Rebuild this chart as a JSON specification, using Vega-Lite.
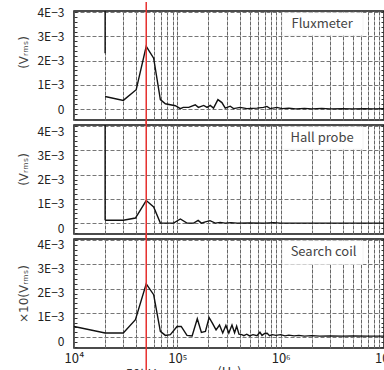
{
  "$schema": "https://vega.github.io/schema/vega-lite/v6.json",
  "padding": {"left": 17, "top": 0, "right": 0, "bottom": 0},
  "spacing": 5,
  "bounds": "flush",
  "config": {
    "font": "Noto Sans CJK JP",
    "view": {"stroke": "#111", "strokeWidth": 1.5},
    "axis": {"labelFontSize": 12, "labelColor": "#222", "titleFontSize": 12, "titleFontWeight": "normal", "titleColor": "#444", "labelFont": "Noto Sans CJK JP", "titleFont": "DejaVu Sans"}
  },
  "datasets": {
    "curves": [
      {"p": "Fluxmeter", "f": 20000, "v": 0.00052},
      {"p": "Fluxmeter", "f": 30000, "v": 0.00036},
      {"p": "Fluxmeter", "f": 40000, "v": 0.0008},
      {"p": "Fluxmeter", "f": 50000, "v": 0.00259},
      {"p": "Fluxmeter", "f": 59000, "v": 0.0021},
      {"p": "Fluxmeter", "f": 68500, "v": 0.00039},
      {"p": "Fluxmeter", "f": 76600, "v": 0.00022},
      {"p": "Fluxmeter", "f": 95700, "v": 0.00014},
      {"p": "Fluxmeter", "f": 107000, "v": 0.00002},
      {"p": "Fluxmeter", "f": 114000, "v": 0.00007},
      {"p": "Fluxmeter", "f": 129000, "v": 0.00007},
      {"p": "Fluxmeter", "f": 149000, "v": 0.00018},
      {"p": "Fluxmeter", "f": 160000, "v": 0.00007},
      {"p": "Fluxmeter", "f": 180000, "v": 0.00015},
      {"p": "Fluxmeter", "f": 194000, "v": 0.00007},
      {"p": "Fluxmeter", "f": 208000, "v": 0.00015},
      {"p": "Fluxmeter", "f": 224000, "v": 0.00004},
      {"p": "Fluxmeter", "f": 247000, "v": 0.00039},
      {"p": "Fluxmeter", "f": 270000, "v": 0.00027},
      {"p": "Fluxmeter", "f": 291000, "v": 0.00004},
      {"p": "Fluxmeter", "f": 325000, "v": 0.00012},
      {"p": "Fluxmeter", "f": 350000, "v": 0.00002},
      {"p": "Fluxmeter", "f": 406000, "v": 0.00007},
      {"p": "Fluxmeter", "f": 471000, "v": 0.00002},
      {"p": "Fluxmeter", "f": 589000, "v": 0.00004},
      {"p": "Fluxmeter", "f": 682000, "v": 0.00007},
      {"p": "Fluxmeter", "f": 736000, "v": 0.00011},
      {"p": "Fluxmeter", "f": 792000, "v": 0.00002},
      {"p": "Fluxmeter", "f": 919000, "v": 0.00007},
      {"p": "Fluxmeter", "f": 1030000, "v": 0.00002},
      {"p": "Fluxmeter", "f": 1200000, "v": 0.00004},
      {"p": "Fluxmeter", "f": 1400000, "v": 0.00001},
      {"p": "Fluxmeter", "f": 1700000, "v": 0.00003},
      {"p": "Fluxmeter", "f": 2000000, "v": 0.00001},
      {"p": "Fluxmeter", "f": 2500000, "v": 0.00003},
      {"p": "Fluxmeter", "f": 3000000, "v": 0.00001},
      {"p": "Fluxmeter", "f": 4000000, "v": 0.00002},
      {"p": "Fluxmeter", "f": 5000000, "v": 0.00001},
      {"p": "Fluxmeter", "f": 6500000, "v": 0.00002},
      {"p": "Fluxmeter", "f": 8000000, "v": 0.00001},
      {"p": "Fluxmeter", "f": 10000000, "v": 0.00002},
      {"p": "Hall probe", "f": 20000, "v": 0.00012},
      {"p": "Hall probe", "f": 30000, "v": 0.00012},
      {"p": "Hall probe", "f": 39300, "v": 0.00021},
      {"p": "Hall probe", "f": 50000, "v": 0.00093},
      {"p": "Hall probe", "f": 59000, "v": 0.00067},
      {"p": "Hall probe", "f": 68500, "v": 0.0},
      {"p": "Hall probe", "f": 92000, "v": 0.0},
      {"p": "Hall probe", "f": 107000, "v": 0.00017},
      {"p": "Hall probe", "f": 124000, "v": 0.0},
      {"p": "Hall probe", "f": 144000, "v": 0.0},
      {"p": "Hall probe", "f": 159000, "v": 0.00011},
      {"p": "Hall probe", "f": 171000, "v": 0.0},
      {"p": "Hall probe", "f": 187000, "v": 0.00005},
      {"p": "Hall probe", "f": 207000, "v": 0.0001},
      {"p": "Hall probe", "f": 233000, "v": 0.0},
      {"p": "Hall probe", "f": 260000, "v": 0.00003},
      {"p": "Hall probe", "f": 290000, "v": 0.0},
      {"p": "Hall probe", "f": 330000, "v": 0.00002},
      {"p": "Hall probe", "f": 380000, "v": 0.0},
      {"p": "Hall probe", "f": 500000, "v": 0.00001},
      {"p": "Hall probe", "f": 700000, "v": 0.0},
      {"p": "Hall probe", "f": 850000, "v": 0.00002},
      {"p": "Hall probe", "f": 1000000, "v": 0.0},
      {"p": "Hall probe", "f": 10000000, "v": 0.0},
      {"p": "Search coil", "f": 10000, "v": 0.00044},
      {"p": "Search coil", "f": 20000, "v": 0.00017},
      {"p": "Search coil", "f": 30000, "v": 0.00017},
      {"p": "Search coil", "f": 39300, "v": 0.00072},
      {"p": "Search coil", "f": 50000, "v": 0.0022},
      {"p": "Search coil", "f": 59000, "v": 0.00175},
      {"p": "Search coil", "f": 68500, "v": 0.00024},
      {"p": "Search coil", "f": 76600, "v": 0.00007},
      {"p": "Search coil", "f": 85600, "v": 0.0001},
      {"p": "Search coil", "f": 99300, "v": 0.00044},
      {"p": "Search coil", "f": 109000, "v": 0.00044},
      {"p": "Search coil", "f": 124000, "v": 0.00007},
      {"p": "Search coil", "f": 139000, "v": 0.00005},
      {"p": "Search coil", "f": 156000, "v": 0.00076},
      {"p": "Search coil", "f": 171000, "v": 0.00019},
      {"p": "Search coil", "f": 187000, "v": 0.00023},
      {"p": "Search coil", "f": 203000, "v": 0.00081},
      {"p": "Search coil", "f": 219000, "v": 0.00057},
      {"p": "Search coil", "f": 237000, "v": 0.0003},
      {"p": "Search coil", "f": 256000, "v": 0.0005},
      {"p": "Search coil", "f": 275000, "v": 0.00017},
      {"p": "Search coil", "f": 295000, "v": 0.00048},
      {"p": "Search coil", "f": 315000, "v": 0.00017},
      {"p": "Search coil", "f": 338000, "v": 0.0005},
      {"p": "Search coil", "f": 358000, "v": 0.00018},
      {"p": "Search coil", "f": 375000, "v": 0.00045},
      {"p": "Search coil", "f": 395000, "v": 0.00012},
      {"p": "Search coil", "f": 420000, "v": 0.0001},
      {"p": "Search coil", "f": 440000, "v": 0.00006},
      {"p": "Search coil", "f": 470000, "v": 0.00012},
      {"p": "Search coil", "f": 500000, "v": 0.00005},
      {"p": "Search coil", "f": 540000, "v": 0.0001},
      {"p": "Search coil", "f": 590000, "v": 0.00006},
      {"p": "Search coil", "f": 630000, "v": 0.0002},
      {"p": "Search coil", "f": 660000, "v": 0.00007},
      {"p": "Search coil", "f": 700000, "v": 0.00015},
      {"p": "Search coil", "f": 740000, "v": 0.00016},
      {"p": "Search coil", "f": 780000, "v": 0.00006},
      {"p": "Search coil", "f": 830000, "v": 0.0001},
      {"p": "Search coil", "f": 900000, "v": 0.00007},
      {"p": "Search coil", "f": 1000000, "v": 0.0001},
      {"p": "Search coil", "f": 1100000, "v": 0.00005},
      {"p": "Search coil", "f": 1200000, "v": 0.00008},
      {"p": "Search coil", "f": 1350000, "v": 0.00005},
      {"p": "Search coil", "f": 1500000, "v": 0.00007},
      {"p": "Search coil", "f": 1700000, "v": 0.00004},
      {"p": "Search coil", "f": 2000000, "v": 0.00006},
      {"p": "Search coil", "f": 2400000, "v": 0.00004},
      {"p": "Search coil", "f": 3000000, "v": 0.00005},
      {"p": "Search coil", "f": 4000000, "v": 0.00004},
      {"p": "Search coil", "f": 5000000, "v": 0.00005},
      {"p": "Search coil", "f": 7000000, "v": 0.00004},
      {"p": "Search coil", "f": 10000000, "v": 0.00004}
    ]
  },
  "vconcat": [
    {
      "width": 310, "height": 109,
      "layer": [
        {
          "data": {"name": "curves"},
          "transform": [{"filter": "datum.p == 'Fluxmeter'"}],
          "mark": {"type": "line", "color": "#111", "strokeWidth": 1.4, "clip": true},
          "encoding": {
            "x": {"field": "f", "type": "quantitative", "scale": {"type": "log", "domain": [10000, 10000000]},
              "axis": {"values": [10000,20000,30000,40000,50000,60000,70000,80000,90000,100000,200000,300000,400000,500000,600000,700000,800000,900000,1000000,2000000,3000000,4000000,5000000,6000000,7000000,8000000,9000000,10000000], "labels": false, "ticks": false, "domain": false, "grid": true, "gridDash": [4, 1], "gridColor": "#666", "title": null}},
            "y": {"field": "v", "type": "quantitative", "scale": {"domain": [-0.00045, 0.00405], "nice": false, "zero": false},
              "axis": {"values": [-0.0004,-0.0002,0,0.0002,0.0004,0.0006,0.0008,0.001,0.0012,0.0014,0.0016,0.0018,0.002,0.0022,0.0024,0.0026,0.0028,0.003,0.0032,0.0034,0.0036,0.0038,0.004],
                "labelExpr": "abs(datum.value*1000-round(datum.value*1000))<0.01 && datum.value>-0.0001 ? (datum.value<0.0001 ? '0' : round(datum.value*1000)+'E−3') : ''",
                "grid": true, "gridDash": [4, 2], "gridColor": "#777",
                "gridOpacity": {"condition": {"test": "abs(datum.value*1000-round(datum.value*1000))<0.01 && datum.value>-0.0001", "value": 1}, "value": 0},
                "domain": false, "tickSize": -3, "tickColor": "#333", "labelPadding": 13, "labelOverlap": false,
                "title": "(Vᵣₘₛ)", "titlePadding": 6, "titleY": 41}}
          }
        },
        {
          "data": {"values": [{}]},
          "mark": {"type": "rect", "fill": "white", "stroke": "#e6e6e6", "strokeWidth": 0.5},
          "encoding": {"x": {"datum": 1035000}, "x2": {"datum": 6270000}, "y": {"datum": 0.00398}, "y2": {"datum": 0.00305}}
        },
        {
          "data": {"values": [{}]},
          "mark": {"type": "rule", "color": "#111", "strokeWidth": 1.4, "clip": true},
          "encoding": {"x": {"datum": 20000}, "y": {"datum": 0.0045}, "y2": {"datum": 0.00231}}
        },
        {
          "data": {"values": [{}]},
          "mark": {"type": "rule", "color": "#e8312f", "strokeWidth": 1.5, "clip": false},
          "encoding": {"x": {"datum": 50000}, "y": {"datum": 0.00442}, "y2": {"datum": -0.0006}}
        },
        {
          "data": {"values": [{}]},
          "mark": {"type": "text", "text": "Fluxmeter", "fontSize": 13, "color": "#444", "font": "Noto Sans CJK JP"},
          "encoding": {"x": {"datum": 2520000},
            "y": {"datum": 0.0035, "type": "quantitative", "axis": {"orient": "right", "values": [-0.0004,-0.0002,0,0.0002,0.0004,0.0006,0.0008,0.001,0.0012,0.0014,0.0016,0.0018,0.002,0.0022,0.0024,0.0026,0.0028,0.003,0.0032,0.0034,0.0036,0.0038,0.004], "labels": false, "grid": false, "domain": false, "tickSize": -3, "tickColor": "#333", "title": null}}}
        }
      ],
      "resolve": {"axis": {"y": "independent"}}
    },
    {
      "width": 310, "height": 109,
      "layer": [
        {
          "data": {"name": "curves"},
          "transform": [{"filter": "datum.p == 'Hall probe'"}],
          "mark": {"type": "line", "color": "#111", "strokeWidth": 1.4, "clip": true},
          "encoding": {
            "x": {"field": "f", "type": "quantitative", "scale": {"type": "log", "domain": [10000, 10000000]},
              "axis": {"values": [10000,20000,30000,40000,50000,60000,70000,80000,90000,100000,200000,300000,400000,500000,600000,700000,800000,900000,1000000,2000000,3000000,4000000,5000000,6000000,7000000,8000000,9000000,10000000], "labels": false, "ticks": false, "domain": false, "grid": true, "gridDash": [4, 1], "gridColor": "#666", "title": null}},
            "y": {"field": "v", "type": "quantitative", "scale": {"domain": [-0.00045, 0.00405], "nice": false, "zero": false},
              "axis": {"values": [-0.0004,-0.0002,0,0.0002,0.0004,0.0006,0.0008,0.001,0.0012,0.0014,0.0016,0.0018,0.002,0.0022,0.0024,0.0026,0.0028,0.003,0.0032,0.0034,0.0036,0.0038,0.004],
                "labelExpr": "abs(datum.value*1000-round(datum.value*1000))<0.01 && datum.value>-0.0001 ? (datum.value<0.0001 ? '0' : round(datum.value*1000)+'E−3') : ''",
                "grid": true, "gridDash": [4, 2], "gridColor": "#777",
                "gridOpacity": {"condition": {"test": "abs(datum.value*1000-round(datum.value*1000))<0.01 && datum.value>-0.0001", "value": 1}, "value": 0},
                "domain": false, "tickSize": -3, "tickColor": "#333", "labelPadding": 13, "labelOverlap": false, "labelOffset": 5,
                "title": "(Vᵣₘₛ)", "titlePadding": 6, "titleY": 44}}
          }
        },
        {
          "data": {"values": [{}]},
          "mark": {"type": "rect", "fill": "white", "stroke": "#e6e6e6", "strokeWidth": 0.5},
          "encoding": {"x": {"datum": 1035000}, "x2": {"datum": 6270000}, "y": {"datum": 0.00398}, "y2": {"datum": 0.00305}}
        },
        {
          "data": {"values": [{}]},
          "mark": {"type": "rule", "color": "#111", "strokeWidth": 1.4, "clip": true},
          "encoding": {"x": {"datum": 20000}, "y": {"datum": 0.0045}, "y2": {"datum": 0.00012}}
        },
        {
          "data": {"values": [{}]},
          "mark": {"type": "rule", "color": "#e8312f", "strokeWidth": 1.5, "clip": false},
          "encoding": {"x": {"datum": 50000}, "y": {"datum": 0.0042}, "y2": {"datum": -0.0006}}
        },
        {
          "data": {"values": [{}]},
          "mark": {"type": "text", "text": "Hall probe", "fontSize": 13, "color": "#444", "font": "Noto Sans CJK JP"},
          "encoding": {"x": {"datum": 2520000},
            "y": {"datum": 0.0035, "type": "quantitative", "axis": {"orient": "right", "values": [-0.0004,-0.0002,0,0.0002,0.0004,0.0006,0.0008,0.001,0.0012,0.0014,0.0016,0.0018,0.002,0.0022,0.0024,0.0026,0.0028,0.003,0.0032,0.0034,0.0036,0.0038,0.004], "labels": false, "grid": false, "domain": false, "tickSize": -3, "tickColor": "#333", "title": null}}}
        }
      ],
      "resolve": {"axis": {"y": "independent"}}
    },
    {
      "width": 310, "height": 109,
      "layer": [
        {
          "data": {"name": "curves"},
          "transform": [{"filter": "datum.p == 'Search coil'"}],
          "mark": {"type": "line", "color": "#111", "strokeWidth": 1.4, "clip": true},
          "encoding": {
            "x": {"field": "f", "type": "quantitative", "scale": {"type": "log", "domain": [10000, 10000000]},
              "axis": {"values": [10000,20000,30000,40000,50000,60000,70000,80000,90000,100000,200000,300000,400000,500000,600000,700000,800000,900000,1000000,2000000,3000000,4000000,5000000,6000000,7000000,8000000,9000000,10000000],
                "labelExpr": "datum.value==10000 ? '10⁴' : datum.value==100000 ? '10⁵' : datum.value==1000000 ? '10⁶' : datum.value==10000000 ? '10⁷' : ''",
                "labelOverlap": false, "labelFlush": false, "labelFontSize": 13, "labelPadding": 4,
                "ticks": false, "domain": false, "grid": true, "gridDash": [4, 1], "gridColor": "#666",
                "title": "(Hz)", "titleFont": "Noto Sans CJK JP", "titleFontSize": 13, "titlePadding": 1, "titleColor": "#333"}},
            "y": {"field": "v", "type": "quantitative", "scale": {"domain": [-0.00045, 0.00405], "nice": false, "zero": false},
              "axis": {"values": [-0.0004,-0.0002,0,0.0002,0.0004,0.0006,0.0008,0.001,0.0012,0.0014,0.0016,0.0018,0.002,0.0022,0.0024,0.0026,0.0028,0.003,0.0032,0.0034,0.0036,0.0038,0.004],
                "labelExpr": "abs(datum.value*1000-round(datum.value*1000))<0.01 && datum.value>-0.0001 ? (datum.value<0.0001 ? '0' : round(datum.value*1000)+'E−3') : ''",
                "grid": true, "gridDash": [4, 2], "gridColor": "#777",
                "gridOpacity": {"condition": {"test": "abs(datum.value*1000-round(datum.value*1000))<0.01 && datum.value>-0.0001", "value": 1}, "value": 0},
                "domain": false, "tickSize": -3, "tickColor": "#333", "labelPadding": 13, "labelOverlap": false, "labelOffset": 4,
                "title": "×10(Vᵣₘₛ)", "titlePadding": 6}}
          }
        },
        {
          "data": {"values": [{}]},
          "mark": {"type": "rect", "fill": "white", "stroke": "#e6e6e6", "strokeWidth": 0.5},
          "encoding": {"x": {"datum": 1035000}, "x2": {"datum": 6270000}, "y": {"datum": 0.00398}, "y2": {"datum": 0.003}}
        },
        {
          "data": {"values": [{}]},
          "mark": {"type": "rule", "color": "#e8312f", "strokeWidth": 1.5, "clip": false},
          "encoding": {"x": {"datum": 50000}, "y": {"datum": 0.0042}, "y2": {"datum": -0.0016}}
        },
        {
          "data": {"values": [{}]},
          "mark": {"type": "text", "text": "50kHz", "fontSize": 13, "color": "#333", "font": "Noto Sans CJK JP", "baseline": "middle", "clip": false},
          "encoding": {"x": {"datum": 48000}, "y": {"datum": -0.00155}}
        },
        {
          "data": {"values": [{}]},
          "mark": {"type": "text", "text": "Search coil", "fontSize": 13, "color": "#444", "font": "Noto Sans CJK JP"},
          "encoding": {"x": {"datum": 2600000},
            "y": {"datum": 0.0035, "type": "quantitative", "axis": {"orient": "right", "values": [-0.0004,-0.0002,0,0.0002,0.0004,0.0006,0.0008,0.001,0.0012,0.0014,0.0016,0.0018,0.002,0.0022,0.0024,0.0026,0.0028,0.003,0.0032,0.0034,0.0036,0.0038,0.004], "labels": false, "grid": false, "domain": false, "tickSize": -3, "tickColor": "#333", "title": null}}}
        }
      ],
      "resolve": {"axis": {"y": "independent"}}
    }
  ]
}
